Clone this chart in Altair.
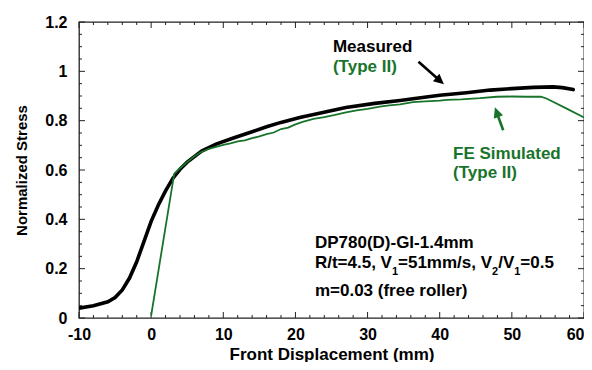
import altair as alt
import pandas as pd

# ---------------- data ----------------
meas_x = [-10, -8, -6, -5, -4, -3, -2, -1, 0, 1, 2, 3, 4, 5, 7, 9, 11.5, 14, 16, 18,
          20.6, 23, 27, 31, 34.5, 36.3, 40, 43.7, 47, 50, 53, 55.7, 57, 58.5]
meas_y = [0.040, 0.050, 0.066, 0.083, 0.114, 0.162, 0.228, 0.310, 0.392, 0.458, 0.515,
          0.566, 0.603, 0.632, 0.677, 0.705, 0.731, 0.755, 0.775, 0.793, 0.813, 0.828,
          0.853, 0.870, 0.882, 0.889, 0.903, 0.913, 0.924, 0.930, 0.935, 0.937, 0.934, 0.926]

sim_x = [0, 3.2, 4, 5, 6, 7, 8, 9, 10, 11, 12, 13, 14, 15, 16, 17, 18, 19, 20, 21, 22.5,
         24, 25.5, 27, 28.5, 30, 31.7, 33, 34.5, 36.3, 38, 40, 41, 43, 45.6, 47.9, 50, 52,
         54, 54.8, 57.6, 60]
sim_y = [0.01, 0.585, 0.607, 0.632, 0.656, 0.674, 0.686, 0.694, 0.702, 0.708, 0.716, 0.720,
         0.729, 0.736, 0.745, 0.752, 0.766, 0.772, 0.785, 0.795, 0.807, 0.814, 0.823, 0.834,
         0.842, 0.848, 0.857, 0.862, 0.866, 0.875, 0.878, 0.881, 0.884, 0.886, 0.891, 0.897,
         0.898, 0.897, 0.897, 0.890, 0.849, 0.813]

x_major = [-10, 0, 10, 20, 30, 40, 50, 60]
x_minor = [v for v in range(-10, 61, 2) if v % 10 != 0]
y_major = [0, 0.2, 0.4, 0.6, 0.8, 1.0, 1.2]
y_minor = [round(i * 0.05, 2) for i in range(25) if i % 4 != 0]

# annotations (text, x, y, colour)
ann_text = ["Measured", "(Type II)", "FE Simulated", "(Type II)",
            "DP780(D)-GI-1.4mm", "m=0.03 (free roller)"]
ann_x = [25.2, 25.2, 41.85, 41.85, 22.7, 22.7]
ann_y = [1.077, 0.998, 0.643, 0.566, 0.284, 0.089]
ann_col = ["black", "green", "green", "green", "black", "black"]

# second info line with subscripts
line2_x, line2_y = 22.7, 0.203
line2_parts = ["R/t=4.5, V", "1", "=51mm/s, V", "2", "/V", "1", "=0.5"]
line2_sub = [False, True, False, True, False, True, False]

# arrows: shaft start, shaft end, tip
arrow_col = ["black", "green"]
arrow_x0 = [37.06, 48.8]
arrow_y0 = [1.039, 0.761]
arrow_x1 = [39.96, 47.93]
arrow_y1 = [0.964, 0.831]
arrow_tx = [40.58, 47.65]
arrow_ty = [0.948, 0.854]
arrow_angle = [131, 340]

# ---------------- styling ----------------
FONT = "Liberation Sans"
GREEN = "#18742b"
COL = {"black": "#000000", "green": GREEN}
W, H = 505, 296
FS = 17
SUB_FS = 11

xs = alt.Scale(domain=[-10, 60], nice=False, zero=False)
ys = alt.Scale(domain=[0, 1.2], nice=False, zero=False)

xaxis = alt.Axis(values=x_major, labelExpr="toString(datum.value)",
                 labelAlign={"condition": {"test": "datum.value == 60", "value": "right"},
                             "value": "center"},
                 domain=False, ticks=False, grid=False,
                 labelFont=FONT, labelFontSize=16, labelFontWeight="bold", labelColor="black",
                 labelPadding=8, title="Front Displacement (mm)", titleFont=FONT,
                 titleFontSize=17, titleFontWeight="bold", titleColor="black",
                 titleY=41, titleBaseline="alphabetic")
yaxis = alt.Axis(values=y_major, format="~g", domain=False, ticks=False, grid=False,
                 labelFont=FONT, labelFontSize=16, labelFontWeight="bold", labelColor="black",
                 labelPadding=12, title="Normalized Stress", titleFont=FONT,
                 titleFontSize=15, titleFontWeight="bold", titleColor="black",
                 titleX=-53, titleY=H / 2, titleAngle=270, titleAlign="center",
                 titleBaseline="alphabetic")

X = alt.X("x:Q", scale=xs, axis=xaxis)
Y = alt.Y("y:Q", scale=ys, axis=yaxis)

layers = []

# inward ticks on all four sides
def xticks(vals, length):
    df = pd.DataFrame({"x": vals})
    bot = alt.Chart(df).mark_rule(color="#222", strokeWidth=1).encode(
        x=X, y=alt.value(H), y2=alt.value(H - length))
    top = alt.Chart(df).mark_rule(color="#222", strokeWidth=1).encode(
        x=X, y=alt.value(0), y2=alt.value(length))
    return [bot, top]

def yticks(vals, length):
    df = pd.DataFrame({"y": vals})
    left = alt.Chart(df).mark_rule(color="#222", strokeWidth=1).encode(
        y=Y, x=alt.value(0), x2=alt.value(length))
    right = alt.Chart(df).mark_rule(color="#222", strokeWidth=1).encode(
        y=Y, x=alt.value(W), x2=alt.value(W - length))
    return [left, right]

layers += xticks(x_major, 6) + xticks(x_minor, 3) + yticks(y_major, 6) + yticks(y_minor, 3)

# curves (measured below, simulated on top)
sim_df = pd.DataFrame({"x": sim_x, "y": sim_y, "i": range(len(sim_x))})
meas_df = pd.DataFrame({"x": meas_x, "y": meas_y, "i": range(len(meas_x))})
layers.append(alt.Chart(meas_df).mark_line(color="black", strokeWidth=3.6, clip=True,
                                           strokeCap="round").encode(x=X, y=Y, order="i:Q"))
layers.append(alt.Chart(sim_df).mark_line(color=GREEN, strokeWidth=1.8, clip=True).encode(
    x=X, y=Y, order="i:Q"))

# arrows
for k in range(2):
    c = COL[arrow_col[k]]
    sdf = pd.DataFrame({"x": [arrow_x0[k]], "y": [arrow_y0[k]],
                        "x2": [arrow_x1[k]], "y2": [arrow_y1[k]]})
    layers.append(alt.Chart(sdf).mark_rule(color=c, strokeWidth=2.6).encode(
        x=X, y=Y, x2="x2:Q", y2="y2:Q"))
    hdf = pd.DataFrame({"x": [arrow_tx[k]], "y": [arrow_ty[k]]})
    layers.append(alt.Chart(hdf).mark_point(
        shape="M0,0L-0.48,1L0.48,1Z", size=420, filled=True, opacity=1,
        color=c, angle=arrow_angle[k]).encode(x=X, y=Y))

# annotation texts
for t, ax, ay, c in zip(ann_text, ann_x, ann_y, ann_col):
    df = pd.DataFrame({"x": [ax], "y": [ay], "t": [t]})
    layers.append(alt.Chart(df).mark_text(
        align="left", baseline="alphabetic", font=FONT, fontSize=FS, fontWeight="bold",
        color=COL[c]).encode(x=X, y=Y, text="t:N"))

# second info line, pieces laid out with Arial-bold advance widths
ADV = {"R": .722, "/": .278, "t": .333, "=": .584, "4": .556, ".": .278, "5": .556,
       ",": .278, " ": .278, "V": .667, "1": .556, "m": .889, "s": .556, "2": .556,
       "0": .556}
off = 0.0
for part, sub in zip(line2_parts, line2_sub):
    fs = SUB_FS if sub else FS
    df = pd.DataFrame({"x": [line2_x], "y": [line2_y], "t": [part]})
    layers.append(alt.Chart(df).mark_text(
        align="left", baseline="alphabetic", font=FONT, fontSize=fs, fontWeight="bold",
        color="black", dx=off, dy=(7 if sub else 0)).encode(x=X, y=Y, text="t:N"))
    off += sum(ADV.get(ch, .556) for ch in part) * fs

chart = alt.layer(*layers).properties(
    width=W, height=H,
    autosize=alt.AutoSizeParams(type="none"),
    padding={"left": 71, "top": 14, "right": 0, "bottom": 44},
    background="white",
).configure_view(stroke="#222", strokeWidth=1.3)

chart.save("out.html", embed_options={"renderer": "svg", "actions": False})
